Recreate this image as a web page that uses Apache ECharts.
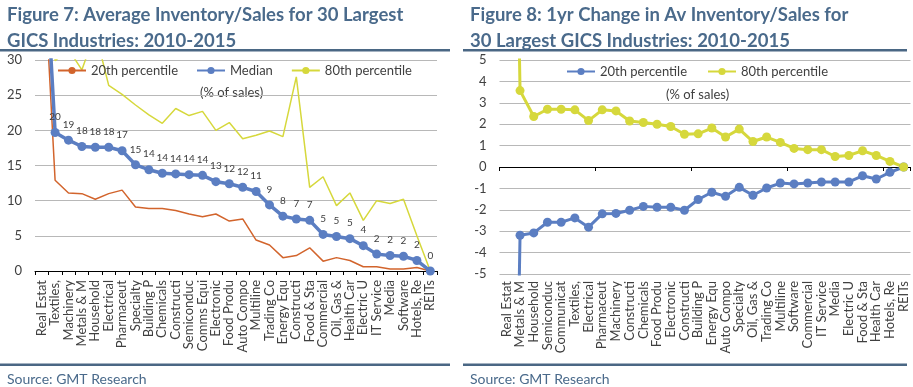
<!DOCTYPE html>
<html>
<head>
<meta charset="utf-8">
<script src="https://cdn.jsdelivr.net/npm/echarts@6/dist/echarts.min.js"></script>
<style>
html,body{margin:0;padding:0;background:#fff;}
#wrap{position:relative;width:913px;height:387px;overflow:hidden;}
#c1{position:absolute;left:0;top:0;width:456px;height:387px;}
#c2{position:absolute;left:456px;top:0;width:457px;height:387px;}
</style>
</head>
<body>
<div id="wrap"><div id="c1"></div><div id="c2"></div></div>
<script>
// ---------- Figure 7 data ----------
const catsL = ['Real Estat','Textiles,','Machinery','Metals & M','Household','Electrical','Pharmaceut','Specialty','Building P','Chemicals','Constructi','Semiconduc','Comms Equi','Electronic','Food Produ','Auto Compo','Multiline','Trading Co','Energy Equ','Constructi','Food & Sta','Commercial','Oil, Gas &','Health Car','Electric U','IT Service','Media','Software','Hotels, Re','REITs'];
const p20L = [49, 12.9, 11.1, 11.0, 10.2, 11.0, 11.5, 9.1, 8.9, 8.9, 8.6, 8.1, 7.7, 8.1, 7.1, 7.4, 4.4, 3.7, 1.9, 2.2, 3.3, 1.4, 1.9, 1.5, 0.6, 0.6, 0.3, 0.3, 0.5, 0];
const medianL = [54, 19.7, 18.6, 17.7, 17.6, 17.6, 17.1, 15.1, 14.4, 13.9, 13.8, 13.7, 13.6, 12.7, 12.4, 11.9, 11.3, 9.4, 7.8, 7.4, 7.2, 5.2, 4.9, 4.6, 3.6, 2.4, 2.2, 2.1, 1.5, 0];
const p80L = [60, 29.9, 31.5, 28.6, 34, 26.4, 25.1, 23.6, 22.2, 21.0, 23.1, 22.1, 22.7, 20.0, 21.1, 18.8, 19.3, 19.9, 19.1, 27.6, 11.9, 13.4, 9.3, 11.1, 7.2, 10.0, 9.6, 10.2, 5.0, 0];
const yTicksL = {min: 0, max: 30, interval: 5};

// ---------- Figure 8 data ----------
const catsR = ['Real Estat','Metals & M','Household','Semiconduc','Communicat','Textiles,','Electrical','Pharmaceut','Machinery','Constructi','Chemicals','Food Produ','Electronic','Constructi','Building P','Energy Equ','Auto Compo','Specialty','Oil, Gas &','Trading Co','Multiline','Software','Commercial','IT Service','Media','Electric U','Food & Sta','Health Car','Hotels, Re','REITs'];
const p20R = [-40, -3.19, -3.08, -2.58, -2.58, -2.38, -2.81, -2.19, -2.17, -2.02, -1.84, -1.88, -1.88, -2.02, -1.52, -1.18, -1.37, -0.95, -1.32, -0.98, -0.75, -0.79, -0.75, -0.70, -0.70, -0.70, -0.41, -0.56, -0.25, 0];
const p80R = [40, 3.57, 2.36, 2.70, 2.70, 2.67, 2.17, 2.67, 2.62, 2.15, 2.08, 2.00, 1.89, 1.53, 1.55, 1.82, 1.40, 1.77, 1.19, 1.40, 1.15, 0.87, 0.81, 0.81, 0.49, 0.54, 0.76, 0.54, 0.26, 0];
const yTicksR = {min: -5, max: 5, interval: 1};

const titleL = 'Figure 7: Average Inventory/Sales for 30 Largest\nGICS Industries: 2010-2015';
const titleR = 'Figure 8: 1yr Change in Av Inventory/Sales for\n30 Largest GICS Industries: 2010-2015';
const sourceText = 'Source: GMT Research';
const unitText = '(% of sales)';

const FONT = 'Lato, "Open Sans", sans-serif';
const TITLE_COLOR = '#4a6a8b';
const RULE_COLOR = '#4a6784';
const TXT = '#404040';
const BLUE = '#5b7ec2';
const ORANGE = '#d2642c';
const YELLOW = '#d6d83c';
const GRID = '#b8b8b8';

function frame(titleText, ruleX1, ruleX2, titleX) {
  return {
    title: [{
      text: titleText, left: titleX, top: -3,
      textStyle: {fontFamily: FONT, fontSize: 18.5, fontWeight: 'bold', color: TITLE_COLOR, lineHeight: 26}
    }, {
      text: sourceText, left: titleX, top: 367,
      textStyle: {fontFamily: FONT, fontSize: 14, fontWeight: 'normal', color: TITLE_COLOR}
    }],
    graphic: [
      {type: 'rect', shape: {x: ruleX1, y: 49, width: ruleX2 - ruleX1, height: 2.5}, style: {fill: RULE_COLOR}, silent: true},
      {type: 'rect', shape: {x: ruleX1, y: 363.5, width: ruleX2 - ruleX1, height: 2.5}, style: {fill: RULE_COLOR}, silent: true}
    ]
  };
}

// ---------- Left chart ----------
const c1 = echarts.init(document.getElementById('c1'), null, {renderer: 'canvas'});
const f1 = frame(titleL, 0, 450, 2);
f1.graphic.push({type: 'text', left: 200, top: 86, style: {text: unitText, font: '13px ' + FONT, fill: TXT}, silent: true});
c1.setOption({
  animation: false,
  title: f1.title,
  graphic: f1.graphic,
  legend: {
    left: 52, top: 59, itemWidth: 28, itemHeight: 9, itemGap: 18,
    textStyle: {fontFamily: FONT, fontSize: 13, color: TXT},
    data: ['20th percentile', 'Median', '80th percentile']
  },
  grid: {left: 35, top: 60, width: 402, height: 211, containLabel: false},
  xAxis: {
    type: 'category', data: catsL, boundaryGap: true,
    axisLine: {lineStyle: {color: '#000', width: 1}},
    axisTick: {show: true, length: 4, lineStyle: {color: '#000'}},
    axisLabel: {rotate: 90, interval: 0, margin: 9, fontFamily: FONT, fontSize: 13, color: TXT}
  },
  yAxis: {
    type: 'value', min: yTicksL.min, max: yTicksL.max, interval: yTicksL.interval,
    axisLine: {show: false}, axisTick: {show: false},
    axisLabel: {margin: 13, fontFamily: FONT, fontSize: 13, color: TXT},
    splitLine: {lineStyle: {color: GRID, width: 1}}
  },
  series: [
    {name: '20th percentile', type: 'line', data: p20L, symbol: 'none', z: 2,
     lineStyle: {color: ORANGE, width: 1.5}, itemStyle: {color: ORANGE}},
    {name: 'Median', type: 'line', data: medianL, symbol: 'circle', symbolSize: 9, z: 4,
     lineStyle: {color: BLUE, width: 3.5}, itemStyle: {color: BLUE},
     label: {show: true, position: 'top', distance: 6, fontFamily: FONT, fontSize: 10, color: TXT,
             formatter: p => String(Math.round(p.value))}},
    {name: '80th percentile', type: 'line', data: p80L, symbol: 'none', z: 3,
     lineStyle: {color: YELLOW, width: 1.5}, itemStyle: {color: YELLOW}}
  ]
});

// ---------- Right chart ----------
const c2 = echarts.init(document.getElementById('c2'), null, {renderer: 'canvas'});
const f2 = frame(titleR, 7, 451, 9);
f2.graphic.push({type: 'text', left: 210, top: 88, style: {text: unitText, font: '13px ' + FONT, fill: TXT}, silent: true});
c2.setOption({
  animation: false,
  title: f2.title,
  graphic: f2.graphic,
  legend: {
    left: 105, top: 60, itemWidth: 28, itemHeight: 9, itemGap: 20,
    textStyle: {fontFamily: FONT, fontSize: 13, color: TXT},
    data: ['20th percentile', '80th percentile']
  },
  grid: {left: 43.5, top: 60, width: 411, height: 214, containLabel: false},
  xAxis: [{
    type: 'category', data: catsR, boundaryGap: true, position: 'bottom',
    axisLine: {show: false, onZero: false}, axisTick: {show: false},
    axisLabel: {rotate: 90, interval: 0, margin: 7, fontFamily: FONT, fontSize: 13, color: TXT}
  }, {
    type: 'category', data: catsR, boundaryGap: true, position: 'bottom',
    axisLine: {show: true, onZero: true, lineStyle: {color: '#000', width: 1}},
    axisTick: {show: true, length: 4, lineStyle: {color: '#000'}},
    axisLabel: {show: false}
  }],
  yAxis: {
    type: 'value', min: yTicksR.min, max: yTicksR.max, interval: yTicksR.interval,
    axisLine: {show: false}, axisTick: {show: false},
    axisLabel: {margin: 13, fontFamily: FONT, fontSize: 13, color: TXT},
    splitLine: {lineStyle: {color: GRID, width: 1}}
  },
  series: [
    {name: '20th percentile', type: 'line', xAxisIndex: 0, data: p20R, symbol: 'circle', symbolSize: 9,
     lineStyle: {color: BLUE, width: 3}, itemStyle: {color: BLUE}},
    {name: '80th percentile', type: 'line', xAxisIndex: 0, data: p80R, symbol: 'circle', symbolSize: 9,
     lineStyle: {color: YELLOW, width: 3}, itemStyle: {color: YELLOW}}
  ]
});
</script>
</body>
</html>
